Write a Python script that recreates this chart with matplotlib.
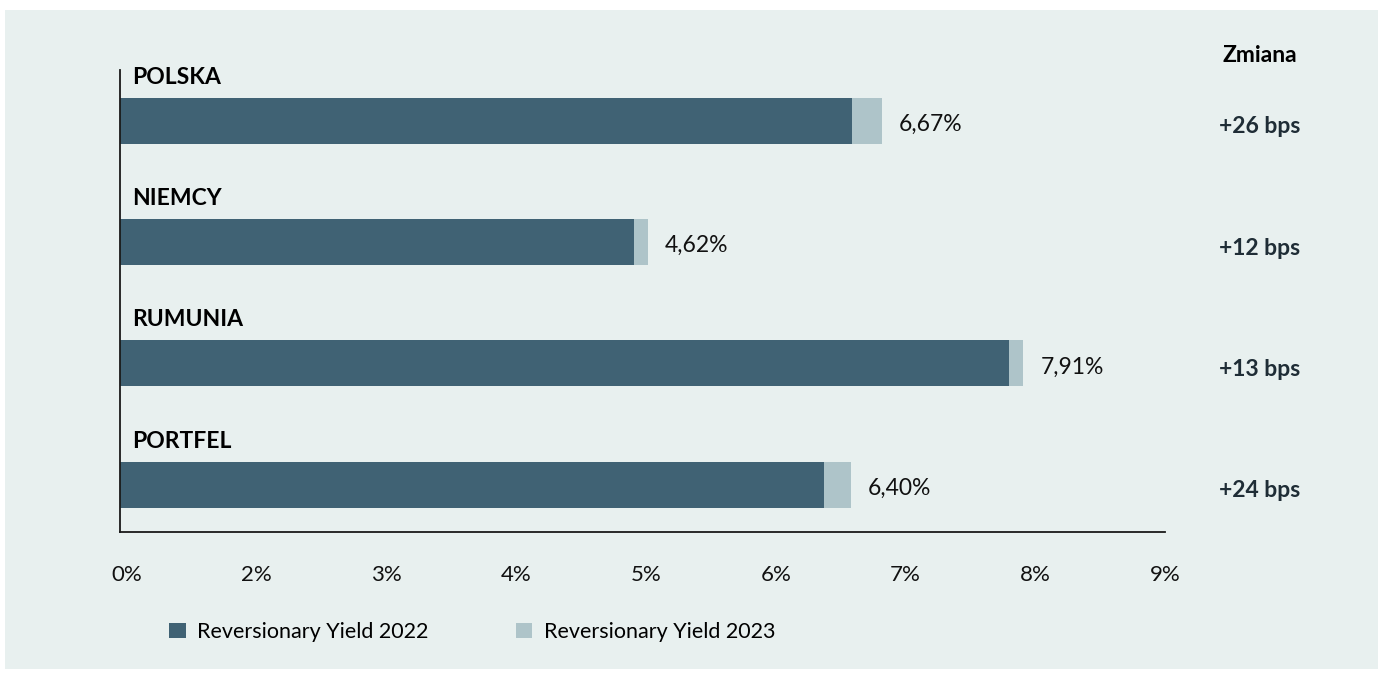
import matplotlib
matplotlib.use("Agg")
import matplotlib.pyplot as plt
from matplotlib.patches import Rectangle
import numpy as np

plt.rcParams['font.family'] = ['Lato', 'DejaVu Sans']

countries = ['POLSKA', 'NIEMCY', 'RUMUNIA', 'PORTFEL']
yield_2022 = [6.41, 4.50, 7.78, 6.16]
yield_2023 = [6.67, 4.62, 7.91, 6.40]
value_labels = ['6,67%', '4,62%', '7,91%', '6,40%']
change_labels = ['+26 bps', '+12 bps', '+13 bps', '+24 bps']
tick_labels = ['0%', '2%', '3%', '4%', '5%', '6%', '7%', '8%', '9%']

dark = '#406274'
light = '#AEC4C9'
bg = '#E8F0EF'

fig = plt.figure(figsize=(13.84, 6.79), dpi=100, facecolor='white')
fig.patches.append(Rectangle((5/1384, 10/679), 1373/1384, 659/679,
                             transform=fig.transFigure, facecolor=bg,
                             edgecolor='none', zorder=-10))
ax = fig.add_axes([0.0867, 0.2165, 0.7551, 0.6804])
ax.set_facecolor('none')

y = np.arange(len(countries))
diff = np.array(yield_2023) - np.array(yield_2022)
ax.barh(y, yield_2022, height=0.38, color=dark, label='Reversionary Yield 2022')
ax.barh(y, diff, left=yield_2022, height=0.38, color=light,
        label='Reversionary Yield 2023')

xmax = 9.15
ax.set_xlim(0, xmax)
ax.set_ylim(3.39, -0.42)

for i in y:
    ax.text(yield_2023[i] + 0.15, i + 0.03, value_labels[i], va='center',
            ha='left', fontsize=16.5, color='#111111')
    ax.text(0.11, i - 0.36, countries[i], va='center', ha='left',
            fontsize=16.5, fontweight='bold', color='black')
    ax.text(1.0 + 95/1045, i + 0.05, change_labels[i], va='center',
            ha='center', fontsize=16.5, fontweight='bold', color='#1f2d36',
            transform=ax.get_yaxis_transform())

ax.text(1.0 + 95/1045, 1.0 + 15/462, 'Zmiana', transform=ax.transAxes,
        va='center', ha='center', fontsize=16.5, fontweight='bold',
        color='black')

ax.set_xticks(np.linspace(0.06, xmax, 9))
ax.set_xticklabels(tick_labels, fontsize=16, color='#111111')
ax.set_yticks([])
ax.tick_params(axis='x', length=0, pad=24)

for s in ['top', 'right']:
    ax.spines[s].set_visible(False)
for s in ['left', 'bottom']:
    ax.spines[s].set_color('#1a1a1a')
    ax.spines[s].set_linewidth(1.3)

leg = fig.legend(loc='center left', bbox_to_anchor=(150/1384, 1 - 632/679),
                 ncol=2, frameon=False, fontsize=15.5, handlelength=0.75,
                 handleheight=0.75, handletextpad=0.55, columnspacing=4.05)

fig.savefig('out.png', dpi=100, facecolor='white')
